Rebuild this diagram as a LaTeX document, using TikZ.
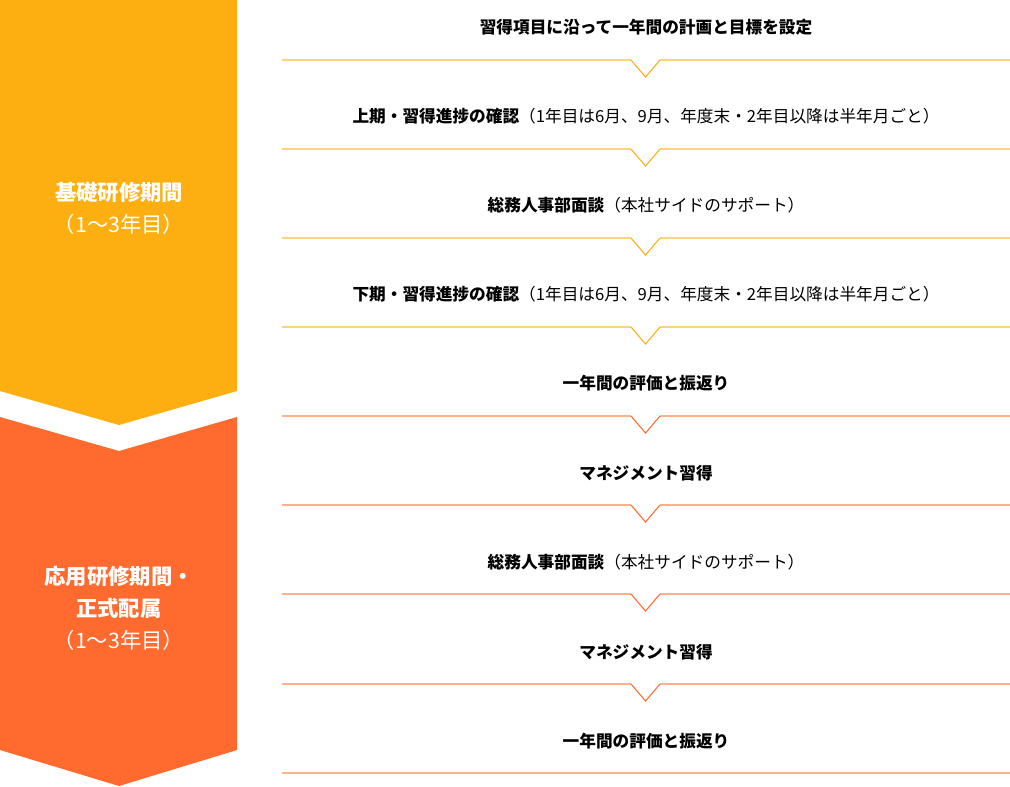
\documentclass[tikz,border=0pt]{standalone}
\usepackage{fontspec}
\setmainfont{Noto Sans CJK JP}
\newfontfamily\jpb{Noto Sans CJK JP}[FakeBold=0]
\definecolor{yel}{HTML}{FDAF12}
\definecolor{red}{HTML}{FF6B2F}
\definecolor{yline}{HTML}{FDD27E}
\definecolor{rline}{HTML}{FFB08C}
\begin{document}
\begin{tikzpicture}[x=0.75pt,y=-0.75pt,
  lbl/.style={font=\fontsize{12.5}{14}\selectfont, anchor=center},
  side/.style={font=\fontsize{16}{24}\selectfont, text=white, align=center}]
\useasboundingbox (0,0) rectangle (1010,786);
\fill[yel] (0,0) -- (237,0) -- (237,391) -- (119,425) -- (0,391) -- cycle;
\fill[red] (0,417) -- (119,451) -- (237,417) -- (237,750) -- (119,786) -- (0,750) -- cycle;
\node[side] (s1) at (119,208) {\textbf{基礎研修期間}\\（1～3年目）};
\node[side] (s2) at (119,608) {\textbf{応用研修期間・}\\\textbf{正式配属}\\（1～3年目）};
\foreach \y/\lc/\nc in {60/yline/yel,149/yline/yel,238/yline/yel,327/yline/yel,416/rline/red,505/rline/red,594/rline/red,684/rline/red}{
  \draw[\lc,line width=0.8pt] (282,\y) -- (631,\y);
  \draw[\lc,line width=0.8pt] (660,\y) -- (1010,\y);
  \draw[\nc,line width=0.8pt] (631,\y) -- (645.5,\y+17) -- (660,\y);
}
\draw[rline,line width=0.8pt] (282,773) -- (1010,773);
\node[lbl] (t1) at (646,27) {\textbf{習得項目に沿って一年間の計画と目標を設定}};
\node[lbl] (t2) at (646,116) {\textbf{上期・習得進捗の確認}（1年目は6月、9月、年度末・2年目以降は半年月ごと）};
\node[lbl] (t3) at (646,205) {\textbf{総務人事部面談}（本社サイドのサポート）};
\node[lbl] (t4) at (646,294) {\textbf{下期・習得進捗の確認}（1年目は6月、9月、年度末・2年目以降は半年月ごと）};
\node[lbl] (t5) at (646,383) {\textbf{一年間の評価と振返り}};
\node[lbl] (t6) at (646,473) {\textbf{マネジメント習得}};
\node[lbl] (t7) at (646,562) {\textbf{総務人事部面談}（本社サイドのサポート）};
\node[lbl] (t8) at (646,652) {\textbf{マネジメント習得}};
\node[lbl] (t9) at (646,741) {\textbf{一年間の評価と振返り}};
\end{tikzpicture}
\end{document}
